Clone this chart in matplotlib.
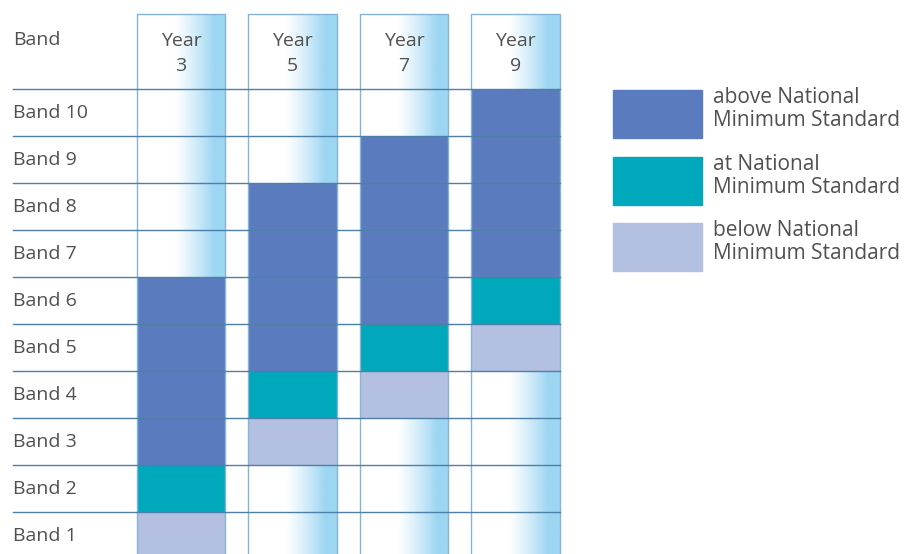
import numpy as np
import matplotlib.pyplot as plt
from matplotlib.patches import Rectangle
from matplotlib.colors import to_rgb

# data
years = ["Year\n3", "Year\n5", "Year\n7", "Year\n9"]
bands = ["Band 1", "Band 2", "Band 3", "Band 4", "Band 5",
         "Band 6", "Band 7", "Band 8", "Band 9", "Band 10"]
# band ranges per year: (first band, last band) for each category
below_band = [1, 3, 4, 5]
at_band = [2, 4, 5, 6]
above_first = [3, 5, 6, 7]
above_last = [6, 8, 9, 10]
legend_labels = ["above National\nMinimum Standard",
                 "at National\nMinimum Standard",
                 "below National\nMinimum Standard"]

c_above = "#5b7bbf"
c_at = "#00a8bc"
c_below = "#b4c0e1"
c_line = "#4f7ea6"
c_col = "#86b4d4"
c_text = "#505050"
font = "Open Sans"

fig = plt.figure(figsize=(9.09, 5.54), dpi=100)
ax = fig.add_axes([0, 0, 1, 1])
# pixel mapping: x_px = 181 + 111.5*u ; y_px = 89 + (10.5 - v)*47
ax.set_xlim(-181 / 111.5, (909 - 181) / 111.5)
ax.set_ylim(10.5 - 465 / 47, 10.5 + 89 / 47)
ax.axis("off")

width = 0.79
top = 10.5 + 75 / 47
bottom = 0.0

# gradient columns
prof = np.linspace(0, 1, 200)
alpha = np.clip((prof - 0.42) / 0.45, 0, 1) ** 1.2
light = np.array(to_rgb("#9dd6f2"))
grad = np.ones((1, 200, 3)) * (1 - alpha[None, :, None]) + light * alpha[None, :, None]
for i in range(len(years)):
    ax.imshow(grad, extent=(i - width / 2, i + width / 2, bottom, top),
              aspect="auto", zorder=1, interpolation="bilinear")

# bars
for i in range(len(years)):
    ax.bar(i, 1, bottom=below_band[i] - 0.5, width=width, color=c_below, zorder=2)
    ax.bar(i, 1, bottom=at_band[i] - 0.5, width=width, color=c_at, zorder=2)
    ax.bar(i, above_last[i] - above_first[i] + 1, bottom=above_first[i] - 0.5,
           width=width, color=c_above, zorder=2)

# column outlines
for i in range(len(years)):
    ax.add_patch(Rectangle((i - width / 2, bottom), width, top - bottom,
                           fill=False, ec=c_col, lw=1.0, zorder=3))
    ax.text(i, 10.5 + 35.5 / 47, years[i], ha="center", va="center",
            fontsize=14, color=c_text, family=font, linespacing=1.5, zorder=4)

# horizontal rules
x0 = (13 - 181) / 111.5
x1 = 3 + width / 2
for k in range(len(bands)):
    ax.plot([x0, x1], [k + 1.5, k + 1.5], color=c_line, lw=1.0, zorder=3)

# band labels
for k, b in enumerate(bands):
    ax.text(x0, k + 0.98, b, ha="left", va="center", fontsize=14,
            color=c_text, family=font, zorder=4)
ax.text(x0, 10.5 + 49 / 47, "Band", ha="left", va="center", fontsize=14,
        color=c_text, family=font, zorder=4)

# legend
leg_colors = [c_above, c_at, c_below]
leg_tops = [90, 157, 223]
for col, t, lab in zip(leg_colors, leg_tops, legend_labels):
    fig.add_artist(Rectangle((613 / 909, 1 - (t + 48) / 554), 89 / 909, 48 / 554,
                             transform=fig.transFigure, color=col))
    fig.text(713 / 909, 1 - (t + 19) / 554, lab, ha="left", va="center",
             fontsize=15, color=c_text, family=font, linespacing=1.1)

fig.savefig("out.png", dpi=100)
